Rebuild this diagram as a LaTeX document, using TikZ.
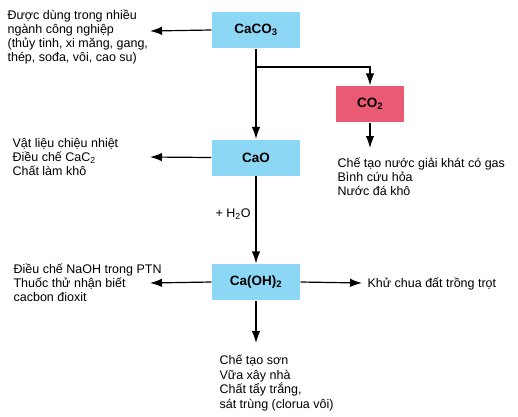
\documentclass[tikz,border=0pt]{standalone}
\usepackage{fontspec}
\setmainfont{Liberation Sans}
\usetikzlibrary{arrows.meta,positioning}
\definecolor{boxblue}{RGB}{140,215,245}
\definecolor{boxpink}{RGB}{235,90,115}

\begin{document}
\begin{tikzpicture}[x=1pt,y=-1pt,>={Latex[length=12pt,width=8.5pt]},line width=1.2pt,
  chem/.style={fill=boxblue,minimum width=88pt,minimum height=36pt,font=\fontsize{13.5}{15}\selectfont\bfseries},
  gas/.style={fill=boxpink,minimum width=68pt,minimum height=36pt,font=\fontsize{13.5}{15}\selectfont\bfseries},
  use/.style={anchor=west,align=left,inner sep=0pt,font=\fontsize{12.5}{14}\selectfont}]
  \useasboundingbox (0,0) rectangle (518,416);
  \node[chem] (caco3) at (256,30) {CaCO\textsubscript{3}};
  \node[gas] (co2) at (370,104) {CO\textsubscript{2}};
  \node[chem] (cao) at (256,157.5) {CaO};
  \node[chem] (caoh) at (256,282) {Ca(OH)\textsubscript{2}};
  \coordinate (br) at (256,67);
  \coordinate (e1) at (150,31);\coordinate (e2) at (370,148);\coordinate (e3) at (150,157);
  \coordinate (e4) at (150,283);\coordinate (e5) at (362,283);\coordinate (e6) at (256,343);
  \draw[->] (caco3.south)--(cao.north); \draw[->] (br) -| (co2.north);
  \draw[->] (caco3.west)--(e1); \draw[->] (co2.south)--(e2); \draw[->] (cao.west)--(e3);
  \draw[->] (cao.south)--(caoh.north);
  \draw[->] (caoh.west)--(e4); \draw[->] (caoh.east)--(e5); \draw[->] (caoh.south)--(e6);
  \node[use] (u1) at (7,37) {Được dùng trong nhiều\\ngành công nghiệp\\(thủy tinh, xi măng, gang,\\thép, sođa, vôi, cao su)};
  \node[use] (u2) at (12,157) {Vật liệu chiệu nhiệt\\Điều chế CaC\textsubscript{2}\\Chất làm khô};
  \node[use] (u3) at (337,176.5) {Chế tạo nước giải khát có gas\\Bình cứu hỏa\\Nước đá khô};
  \node[use] (h2o) at (215,214) {+ H\textsubscript{2}O};
  \node[use] (u4) at (13,283) {Điều chế NaOH trong PTN\\Thuốc thử nhận biết\\cacbon đioxit};
  \node[use] (u5) at (367,283.5) {Khử chua đất trồng trọt};
  \node[use,font=\fontsize{12.5}{14.6}\selectfont] (u6) at (219,383) {Chế tạo sơn\\Vữa xây nhà\\Chất tẩy trắng,\\sát trùng (clorua vôi)};
\end{tikzpicture}
\end{document}
